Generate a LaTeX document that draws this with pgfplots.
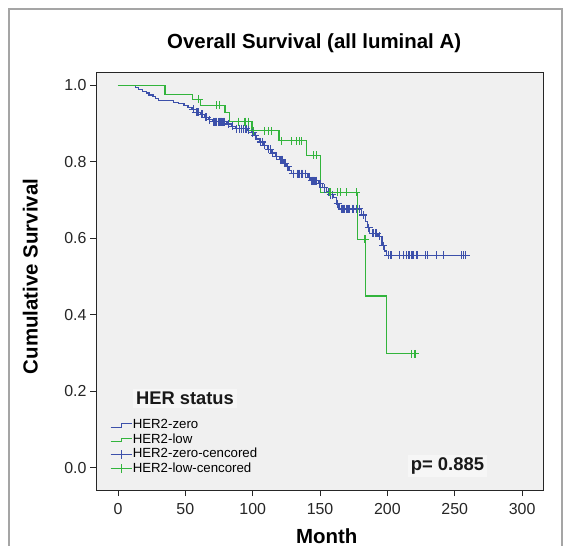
\documentclass[border=0pt]{standalone}
\usepackage{fontspec}
\setmainfont{Liberation Sans}
\usepackage{pgfplots}
\pgfplotsset{compat=1.18}
\definecolor{kmblue}{RGB}{60,80,170}
\definecolor{kmgreen}{RGB}{50,180,60}
\definecolor{plotbg}{RGB}{240,240,240}
\definecolor{boxbg}{RGB}{246,246,246}
\definecolor{framegray}{RGB}{165,165,165}
\pgfplotsset{
  steplegend/.style={legend image code/.code={\draw[#1, line width=1.1bp] (0bp,-1.8bp) -- (11bp,-1.8bp) -- (11bp,1.8bp) -- (21bp,1.8bp);}},
  pluslegend/.style={legend image code/.code={\draw[#1, line width=1.1bp] (0bp,0bp) -- (21bp,0bp); \draw[#1, line width=1.1bp] (10.5bp,-4.5bp) -- (10.5bp,4.5bp);}},
}
\begin{document}
\begin{tikzpicture}[x=1bp,y=1bp]
\useasboundingbox (0,0) rectangle (567,546);
\fill[white] (0,0) rectangle (567,546);
\draw[framegray, line width=2bp] (9,-2) -- (9,537) -- (562,537) -- (562,-2);
\begin{axis}[
  at={(96bp,56bp)}, anchor=south west,
  scale only axis, width=447bp, height=418bp,
  xmin=-16.3, xmax=315.5, ymin=-0.058, ymax=1.035,
  axis background/.style={fill=plotbg},
  axis line style={black!85, line width=0.8bp},
  tick align=outside, tick pos=left,
  major tick length=6bp,
  every tick/.style={black!85, line width=0.8bp},
  xtick={0,50,...,300},
  ytick={0,0.2,0.4,0.6,0.8,1.0},
  yticklabel style={/pgf/number format/.cd, fixed, fixed zerofill, precision=1},
  xticklabel style={yshift=-4bp},
  /pgf/number format/assume math mode=true,
  tick label style={font=\fontsize{16}{19}\selectfont, black!85},
  title={Overall Survival (all luminal A)},
  title style={font=\fontsize{20.5}{24}\selectfont\bfseries, at={(axis description cs:0.488,1.042)}, anchor=base},
  xlabel={Month},
  xlabel style={font=\fontsize{20.5}{24}\selectfont\bfseries, at={(axis description cs:0.516,-0.1268)}, anchor=base},
  ylabel={Cumulative Survival},
  ylabel style={font=\fontsize{20.5}{24}\selectfont\bfseries, at={(axis description cs:-0.1306,0.511)}, anchor=base},
  legend style={at={(axis description cs:0.031,0.172)}, anchor=north west, draw=none, fill=none,
    font=\fontsize{13.3}{15}\selectfont, row sep=0pt, inner sep=0pt,
    nodes={inner sep=0.6bp, text height=10bp, text depth=3.2bp, anchor=west}},
  legend cell align=left,
]
\addlegendimage{steplegend=kmblue}
\addlegendentry{HER2-zero}
\addlegendimage{steplegend=kmgreen}
\addlegendentry{HER2-low}
\addlegendimage{pluslegend=kmblue}
\addlegendentry{HER2-zero-cencored}
\addlegendimage{pluslegend=kmgreen}
\addlegendentry{HER2-low-cencored}

% HER2-zero step curve
\addplot[const plot, kmblue, line width=1.2bp, forget plot] coordinates {
(0,1.0)(13,0.995)(15,0.99)(18,0.985)(21,0.98)(23,0.975)(26,0.97)(28,0.965)(30,0.96)
(41,0.956)(45,0.952)(49,0.947)(52,0.942)(55,0.937)(58,0.93)(61,0.924)(64,0.916)(67,0.91)
(70,0.905)(81,0.899)(84,0.893)(87,0.887)(96,0.882)(99,0.876)(101,0.868)(103,0.86)(105,0.852)
(108,0.843)(111,0.833)(114,0.823)(117,0.815)(120,0.806)(123,0.796)(125,0.787)(127,0.778)
(129,0.769)(141,0.760)(143,0.751)(149,0.743)(152,0.732)(155,0.721)(157,0.714)(160,0.706)
(162,0.69)(164,0.677)(181,0.661)(184,0.645)(185.5,0.628)(187,0.613)(193,0.605)(196,0.581)
(198,0.567)(199.5,0.556)(261,0.556)};
% HER2-low step curve
\addplot[const plot, kmgreen, line width=1.2bp, forget plot] coordinates {
(0,1.0)(34.9,0.976)(55.4,0.964)(61,0.948)(79.4,0.930)(82.6,0.905)(99.5,0.881)(119.5,0.855)
(140,0.817)(150.5,0.720)(177.7,0.598)(183.9,0.449)(199.4,0.298)(221,0.298)};
% HER2-zero censored
\addplot[only marks, mark=+, mark size=4bp, kmblue, line width=1.1bp, forget plot] coordinates {
(56,0.937)(58,0.93)(59,0.93)(60,0.93)(62,0.924)(63,0.924)(65,0.916)(66,0.916)(68,0.91)
(71,0.905)(72,0.905)(73,0.905)(75,0.905)(76,0.905)(77,0.905)(78,0.905)(79,0.905)(82,0.899)
(85,0.893)(88,0.887)(90,0.887)(92,0.887)(93,0.887)(95,0.887)(97,0.882)(100,0.876)(102,0.868)
(106,0.852)(107,0.852)(109,0.843)(112,0.833)(113,0.833)(115,0.823)(118,0.815)(121,0.806)
(122,0.806)(124,0.796)(126,0.787)(130,0.769)(133,0.769)(134,0.769)(135,0.769)(136,0.769)
(137,0.769)(139,0.769)(142,0.76)(144,0.751)(145,0.751)(146,0.751)(147,0.751)(150,0.743)
(153,0.732)(156,0.721)(158,0.714)(159,0.714)(163,0.69)(166,0.677)(167,0.677)(168,0.677)
(170,0.677)(171,0.677)(172,0.677)(174,0.677)(175,0.677)(177,0.677)(179,0.677)(182,0.661)
(186,0.628)(189,0.613)(190,0.613)(191,0.613)(192,0.613)(194,0.605)(197,0.581)(200.5,0.556)
(201,0.556)(202,0.556)(203,0.556)(209,0.556)(212,0.556)(214,0.556)(216,0.556)(218,0.556)
(219,0.556)(222,0.556)(228,0.556)(230,0.556)(236.6,0.556)(241.5,0.556)(255,0.556)
(256.5,0.556)(258,0.556)};
% HER2-low censored
\addplot[only marks, mark=+, mark size=4bp, kmgreen, line width=1.1bp, forget plot] coordinates {
(60,0.964)(73,0.948)(75.5,0.948)(89.3,0.905)(94.3,0.905)(96.8,0.905)(100.5,0.881)(109,0.881)
(111.6,0.881)(114,0.881)(121.5,0.855)(129,0.855)(132.7,0.855)(135,0.855)(136.4,0.855)
(145,0.817)(147.7,0.817)(157.4,0.72)(163,0.72)(165,0.72)(169.8,0.72)(177,0.72)(183.4,0.598)
(218,0.298)(220.5,0.298)};

\node[anchor=base west, font=\fontsize{18.4}{20}\selectfont\bfseries, fill=boxbg, inner sep=3bp, text=black!90] at (axis cs:11.1,0.165) {HER status};
\node[anchor=base, font=\fontsize{18.5}{20}\selectfont\bfseries, fill=boxbg, inner sep=3bp, text=black!90] at (axis cs:244.6,-0.007) {p= 0.885};
\end{axis}
\end{tikzpicture}
\end{document}
